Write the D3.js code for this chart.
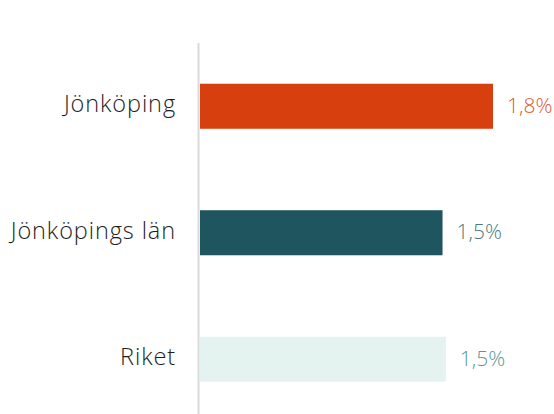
<!DOCTYPE html>
<html>
<head>
<meta charset="utf-8">
<script src="https://d3js.org/d3.v7.min.js"></script>
<style>
  html, body { margin: 0; padding: 0; background: #fff; }
  svg { display: block; }
  .cat { font-family: "Open Sans", sans-serif; font-weight: 300; font-size: 23.5px; letter-spacing: 0.9px; fill: #1e1e1e; }
  .val { font-family: "Open Sans", sans-serif; font-weight: 300; font-size: 21px; }
</style>
</head>
<body>
<div id="chart"></div>
<script>
const width = 554,
  height = 414;

// data
const categories = ["Jönköping", "Jönköpings län", "Riket"];
const values = [1.8, 1.49, 1.51];
const barColors = ["#d83f0f", "#1f555e", "#e5f3f0"];
const labelColors = ["#dc5a32", "#4a7a80", "#589797"];

const x0 = 200;

const svg = d3.select("#chart")
  .append("svg")
  .attr("width", width)
  .attr("height", height);

const x = d3.scaleLinear()
  .domain([0, 1.8])
  .range([x0, 493]);

const y = d3.scaleBand()
  .domain(categories)
  .range([43, 422.5])
  .paddingInner(0.644)
  .paddingOuter(0.322);

const rows = categories.map((c, i) => ({ cat: c, value: values[i], i: i }));

svg.selectAll("rect.bar")
  .data(rows)
  .join("rect")
  .attr("class", "bar")
  .attr("x", x(0))
  .attr("y", d => y(d.cat))
  .attr("width", d => x(d.value) - x(0))
  .attr("height", y.bandwidth())
  .attr("fill", d => barColors[d.i]);

// vertical axis line
svg.append("line")
  .attr("x1", x0 - 1.5)
  .attr("x2", x0 - 1.5)
  .attr("y1", 43)
  .attr("y2", height)
  .attr("stroke", "#d9d9d9")
  .attr("stroke-width", 2);

svg.selectAll("text.cat")
  .data(rows)
  .join("text")
  .attr("class", "cat")
  .attr("x", 176)
  .attr("y", d => y(d.cat) + y.bandwidth() / 2)
  .attr("dy", "0.25em")
  .attr("text-anchor", "end")
  .text(d => d.cat);

const fmt = v => d3.format(".1f")(v).replace(".", ",") + "%";

svg.selectAll("text.val")
  .data(rows)
  .join("text")
  .attr("class", "val")
  .attr("x", d => x(d.value) + 14)
  .attr("y", d => y(d.cat) + y.bandwidth() / 2)
  .attr("dy", "0.32em")
  .attr("fill", d => labelColors[d.i])
  .text(d => fmt(d.value));
</script>
</body>
</html>
